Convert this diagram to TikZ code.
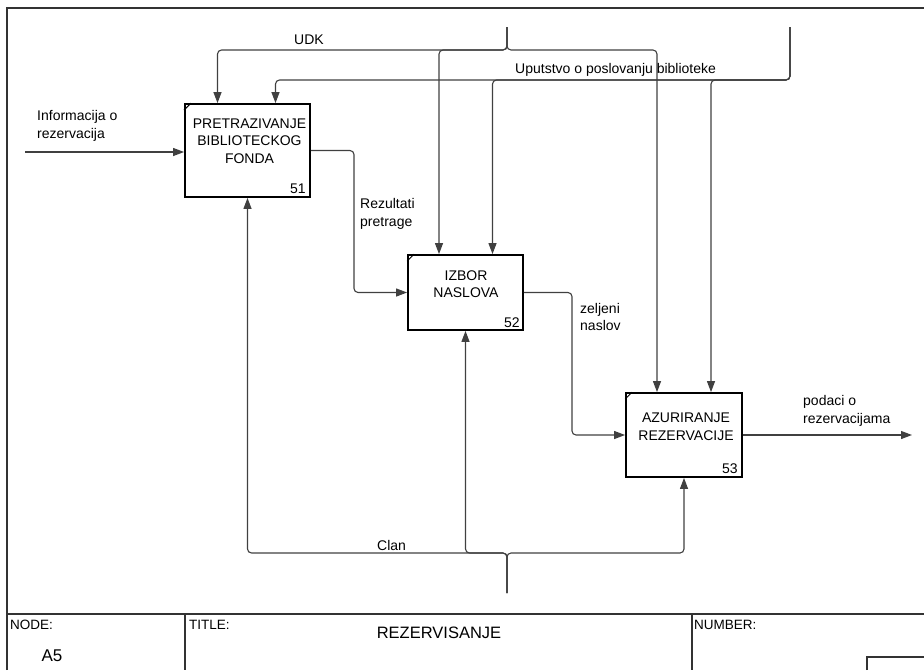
\documentclass[tikz,border=0pt]{standalone}
\usepackage{fontspec}
\setmainfont{Liberation Sans}
\usetikzlibrary{arrows.meta}
\begin{document}
\begin{tikzpicture}[x=1pt,y=-1pt,
  flow/.style={draw=black!75, line width=1.1pt, rounded corners=4pt},
  arr/.style={-{Triangle[length=11pt,width=8pt]}},
  actbox/.style={draw=black, line width=1.8pt, fill=white, inner sep=0pt},
  boxtext/.style={font=\fontsize{14}{17.5}\selectfont, align=center, inner sep=0pt},
  lbl/.style={font=\fontsize{14}{17.5}\selectfont, align=left, inner sep=0pt, anchor=west},
  numtext/.style={font=\fontsize{14}{16}\selectfont, inner sep=0pt, anchor=south east},
  frm/.style={draw=black!80, line width=1.2pt},
  small/.style={font=\fontsize{13.5}{15}\selectfont, inner sep=0pt, anchor=west}
]
\useasboundingbox (0,0) rectangle (924,670);

% page frame and title block
\draw[frm] (7,670) -- (7,8) -- (924,8);
\draw[frm] (7,614) -- (924,614);
\draw[frm] (185,614) -- (185,670);
\draw[frm] (692,614) -- (692,670);
\draw[frm] (867,670) -- (867,657) -- (924,657);
\node[small] (nodelbl) at (10,625) {NODE:};
\node[font=\fontsize{17}{19}\selectfont, inner sep=0pt] (nodeval) at (52,656) {A5};
\node[small] (titlelbl) at (189,625) {TITLE:};
\node[font=\fontsize{16.5}{19}\selectfont, inner sep=0pt] (titleval) at (439,633) {REZERVISANJE};
\node[small] (numlbl) at (694,625) {NUMBER:};

% activity boxes
\node[actbox, minimum width=125pt, minimum height=93pt] (b1) at (247.5,150.5) {};
\node[actbox, minimum width=115pt, minimum height=75pt] (b2) at (465.5,292.5) {};
\node[actbox, minimum width=116pt, minimum height=84pt] (b3) at (684,435) {};

\foreach \b in {b1,b2,b3}{
  \draw[line width=1pt] ([yshift=-7pt]\b.north west) -- ([xshift=7pt]\b.north west);
}

\node[boxtext] (t1) at (249.5,141) {PRETRAZIVANJE\\BIBLIOTECKOG\\FONDA};
\node[boxtext] (t2) at (466,284) {IZBOR\\NASLOVA};
\node[boxtext] (t3) at (686,426.5) {AZURIRANJE\\REZERVACIJE};

\node[numtext] (n1) at ([xshift=-5pt,yshift=4pt]b1.south east) {51};
\node[numtext] (n2) at ([xshift=-4pt,yshift=3pt]b2.south east) {52};
\node[numtext] (n3) at ([xshift=-5pt,yshift=4pt]b3.south east) {53};

% input and outputs
\coordinate (inL) at (25,152);
\draw[flow,arr] (inL) -- (inL -| b1.west);
\node[lbl] (linfo) at (37,126) {Informacija o\\rezervacija};

\coordinate (k1) at (354,0);
\draw[flow,arr] (b1.east) -| (k1 |- b2.west) -- (b2.west);
\node[lbl] (lrez) at (360,214) {Rezultati\\pretrage};

\coordinate (k2) at (572,0);
\draw[flow,arr] (b2.east) -| (k2 |- b3.west) -- (b3.west);
\node[lbl] (lzel) at (580,317) {zeljeni\\naslov};

\coordinate (outR) at (912,435);
\draw[flow,arr] (b3.east) -- (outR);
\node[lbl] (lpod) at (803,411) {podaci o\\rezervacijama};

% control UDK
\coordinate (udk) at (507,27);
\coordinate (uj) at (507,50);
\draw[flow,arr] (udk) -- (uj) -| ([xshift=-30pt]b1.north);
\draw[flow,arr] (udk) -- (uj) -| ([xshift=-26.5pt]b2.north);
\draw[flow,arr] (udk) -- (uj) -| ([xshift=-27pt]b3.north);
\node[lbl] (ludk) at (294,40) {UDK};

% control Uputstvo
\coordinate (upu) at (790,27);
\coordinate (pj) at (790,80);
\draw[flow,arr] (upu) -- (pj) -| ([xshift=28pt]b1.north);
\draw[flow,arr] (upu) -- (pj) -| ([xshift=27pt]b2.north);
\draw[flow,arr] (upu) -- (pj) -| ([xshift=27pt]b3.north);
\node[lbl] (lupu) at (515,70) {Uputstvo o poslovanju biblioteke};

% mechanism Clan
\coordinate (clan) at (507,593);
\coordinate (cj) at (507,553);
\draw[flow,arr] (clan) -- (cj) -| (b1.south);
\draw[flow,arr] (clan) -- (cj) -| (b2.south);
\draw[flow,arr] (clan) -- (cj) -| (b3.south);
\node[lbl] (lclan) at (377,545) {Clan};
\end{tikzpicture}
\end{document}
